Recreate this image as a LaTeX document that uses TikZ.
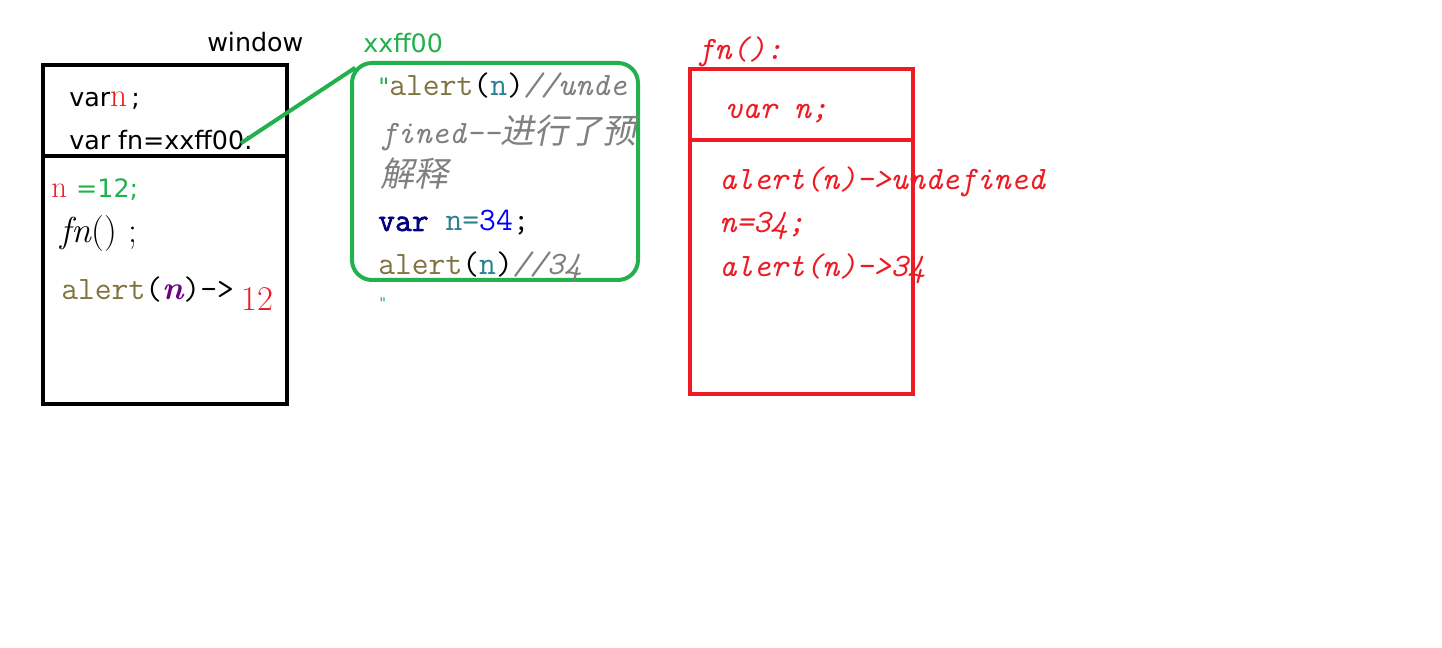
\documentclass[tikz,border=0pt]{standalone}
\usepackage{fontspec}
\newfontfamily\uifont{DejaVu Sans}
\newfontfamily\codefont{Latin Modern Mono}
\newfontfamily\codebold[FakeBold=2]{Latin Modern Mono}
\newfontfamily\cjkfont{Noto Sans CJK SC}
\newfontfamily\cjkslant[FakeSlant=0.2]{Noto Sans CJK SC}
\definecolor{jsgreen}{RGB}{34,177,76}
\definecolor{jsred}{RGB}{237,28,36}
\definecolor{jsolive}{RGB}{128,116,64}
\definecolor{jsteal}{RGB}{40,130,145}
\definecolor{jsnavy}{RGB}{0,0,128}
\definecolor{jsblue}{RGB}{0,0,255}
\definecolor{jsgray}{RGB}{128,128,128}
\definecolor{jspurple}{RGB}{110,0,130}

\begin{document}
\begin{tikzpicture}[x=0.75pt, y=-0.75pt,
	txt/.style={anchor=base west, inner sep=0pt},
	ui/.style={txt, font=\uifont\fontsize{19}{22}\selectfont},
	code/.style={txt, font=\codefont\fontsize{24.5}{28}\selectfont},
	redcode/.style={code, text=jsred, font=\codefont\itshape\fontsize{24.5}{28}\selectfont},
	stackbox/.style={draw=black, line width=3pt},
	heapbox/.style={draw=jsgreen, line width=3pt, rounded corners=15pt},
	scopebox/.style={draw=jsred, line width=3.2pt}]
		\fill[white] (0,0) rectangle (1442,648);
		\useasboundingbox (0,0) rectangle (1442,648);
		% window
		\node[ui] (win) at (207,52) {window};
		\draw[stackbox] (43,65) rectangle (287,404);
		\draw[stackbox] (43,156) -- (287,156);
		\node[ui] (wvar) at (69,107) {var{\rmfamily\fontsize{25}{28}\selectfont\textcolor{jsred}{n}}\,;};
		\node[ui] (wfn) at (69,150) {var fn=xxff00:};
		\node[txt, font=\rmfamily\fontsize{23}{26}\selectfont] (wset) at (51,198) {\textcolor{jsred}{n} \textcolor{jsgreen}{\uifont\fontsize{19}{22}\selectfont=12;}};
		\node[txt, font=\rmfamily\fontsize{27}{30}\selectfont] (wcall) at (60,243) {\textit{fn}() ;};
		\node[code] (walert) at (61,300) {\textcolor{jsolive}{alert}(\textcolor{jspurple}{\rmfamily\bfseries\itshape n})->};
		\node[txt, font=\rmfamily\fontsize{26}{28}\selectfont, text=jsred] (wres) at (241,311) {12};
		% heap
		\node[ui, text=jsgreen] (addr) at (363,53) {xxff00};
		\node[heapbox, minimum width=286*0.75pt, minimum height=217*0.75pt] (heap) at (495,171.5) {};
		\draw[jsgreen, line width=3pt] ([xshift=-9pt, yshift=-2pt]wfn.east) -- ([xshift=4pt, yshift=-5pt]heap.north west);
		\node[code] (h1) at (378,96) {\textcolor{jsgreen}{\uifont\fontsize{18}{22}\selectfont"}\textcolor{jsolive}{alert}(\textcolor{jsteal}{n})\textcolor{jsgray}{\itshape//unde}};
		\node[code, text=jsgray] (h2) at (380,144) {\itshape fined-{}-{\cjkslant\fontsize{25.5}{28}\selectfont 进行了预}};
		\node[code, text=jsgray] (h3) at (380,187) {\cjkslant\fontsize{25.5}{28}\selectfont 解释};
		\node[code] (h4) at (378,231) {\textcolor{jsnavy}{\codebold var} \textcolor{jsteal}{n=}\textcolor{jsblue}{34};};
		\node[code] (h5) at (378,275) {\textcolor{jsolive}{alert}(\textcolor{jsteal}{n})\textcolor{jsgray}{\itshape//34}};
		\node[ui, text=jsgreen, font=\uifont\fontsize{11}{13}\selectfont, anchor=north west] (h6) at (379,298) {"};
		% fn scope
		\node[redcode] (fnname) at (697,60) {fn():};
		\draw[scopebox] (690,69) rectangle (913,394);
		\draw[scopebox] (690,140) -- (913,140);
		\node[redcode] (fvar) at (725,119) {var n;};
		\node[redcode] (f1) at (719,190) {alert(n)->undefined};
		\node[redcode] (f2) at (719,233) {n=34;};
		\node[redcode] (f3) at (719,277) {alert(n)->34};
\end{tikzpicture}
\end{document}
